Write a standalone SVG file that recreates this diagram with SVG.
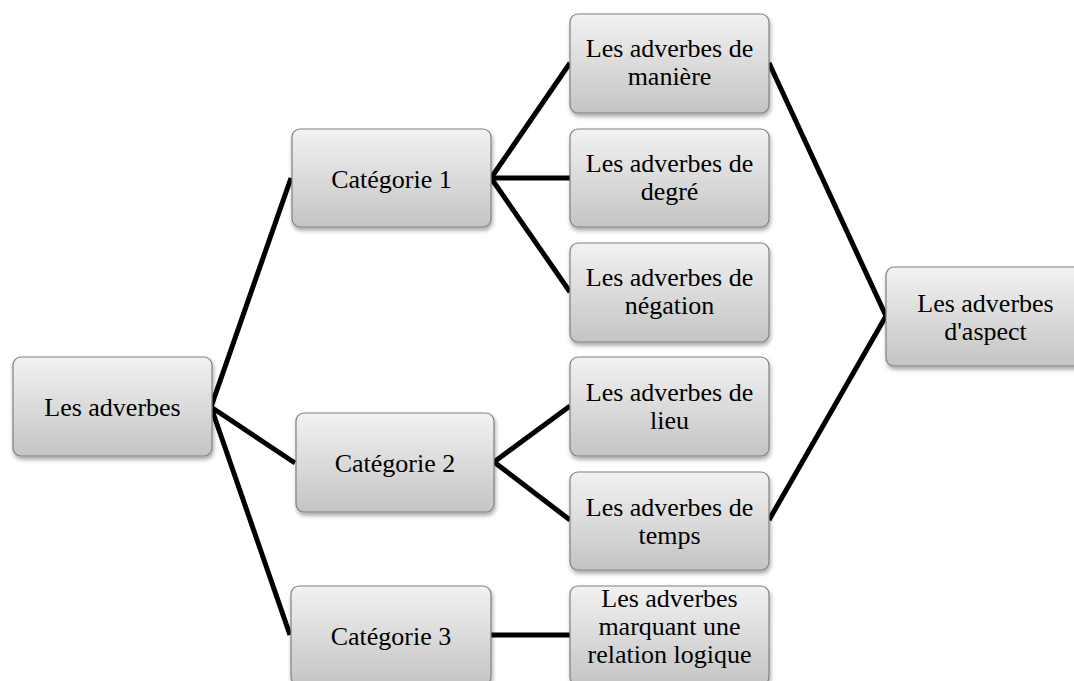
<svg xmlns="http://www.w3.org/2000/svg" width="1074" height="681" viewBox="0 0 1074 681">
<style>
.box{fill:url(#g);stroke:#808080;stroke-width:1.2;filter:url(#sh)}
.t{font-family:"Liberation Serif","Times New Roman",serif;font-size:26px;fill:#000;text-anchor:middle}
.c{stroke:#000;stroke-width:5;fill:none;stroke-linecap:butt}
</style>
<defs>
<linearGradient id="g" x1="0" y1="0" x2="0" y2="1">
<stop offset="0" stop-color="#f2f2f2"/>
<stop offset="1" stop-color="#c4c4c4"/>
</linearGradient>
<filter id="sh" x="-10%" y="-10%" width="120%" height="130%">
<feDropShadow dx="1" dy="3" stdDeviation="2" flood-color="#000" flood-opacity="0.35"/>
</filter>
</defs>
<rect width="1074" height="681" fill="#fff"/>
<g id="connectors">
<line class="c" x1="211" y1="407" x2="291" y2="178"/>
<line class="c" x1="211" y1="407" x2="295" y2="463"/>
<line class="c" x1="211" y1="407" x2="290" y2="635"/>
<line class="c" x1="491" y1="178" x2="570" y2="63"/>
<line class="c" x1="491" y1="178" x2="570" y2="178"/>
<line class="c" x1="491" y1="178" x2="570" y2="292"/>
<line class="c" x1="494" y1="462" x2="570" y2="406"/>
<line class="c" x1="494" y1="462" x2="570" y2="520"/>
<line class="c" x1="491" y1="635" x2="570" y2="635"/>
<line class="c" x1="769" y1="63" x2="886" y2="316"/>
<line class="c" x1="769" y1="520" x2="886" y2="316"/>
</g>
<g id="n-adverbes"><rect class="box" x="13" y="357" width="199" height="99" rx="8"/><text class="t" x="112.5" y="416">Les adverbes</text></g>
<g id="n-cat1"><rect class="box" x="292" y="129" width="199" height="98" rx="8"/><text class="t" x="391.5" y="188">Catégorie 1</text></g>
<g id="n-cat2"><rect class="box" x="296" y="413" width="198" height="99" rx="8"/><text class="t" x="395" y="472">Catégorie 2</text></g>
<g id="n-cat3"><rect class="box" x="291" y="586" width="200" height="99" rx="8"/><text class="t" x="391" y="645">Catégorie 3</text></g>
<g id="n-maniere"><rect class="box" x="570" y="14" width="199" height="99" rx="8"/><text class="t" x="669.5" y="57">Les adverbes de</text><text class="t" x="669.5" y="85">manière</text></g>
<g id="n-degre"><rect class="box" x="570" y="129" width="199" height="98" rx="8"/><text class="t" x="669.5" y="172">Les adverbes de</text><text class="t" x="669.5" y="200">degré</text></g>
<g id="n-negation"><rect class="box" x="570" y="243" width="199" height="99" rx="8"/><text class="t" x="669.5" y="286">Les adverbes de</text><text class="t" x="669.5" y="314">négation</text></g>
<g id="n-lieu"><rect class="box" x="570" y="357" width="199" height="99" rx="8"/><text class="t" x="669.5" y="401">Les adverbes de</text><text class="t" x="669.5" y="429">lieu</text></g>
<g id="n-temps"><rect class="box" x="570" y="472" width="199" height="98" rx="8"/><text class="t" x="669.5" y="516">Les adverbes de</text><text class="t" x="669.5" y="544">temps</text></g>
<g id="n-logique"><rect class="box" x="570" y="586" width="199" height="99" rx="8"/><text class="t" x="669.5" y="607">Les adverbes</text><text class="t" x="669.5" y="635">marquant une</text><text class="t" x="669.5" y="663">relation logique</text></g>
<g id="n-aspect"><rect class="box" x="886" y="267" width="199" height="99" rx="8"/><text class="t" x="985.5" y="312">Les adverbes</text><text class="t" x="985.5" y="340">d'aspect</text></g>
</svg>
